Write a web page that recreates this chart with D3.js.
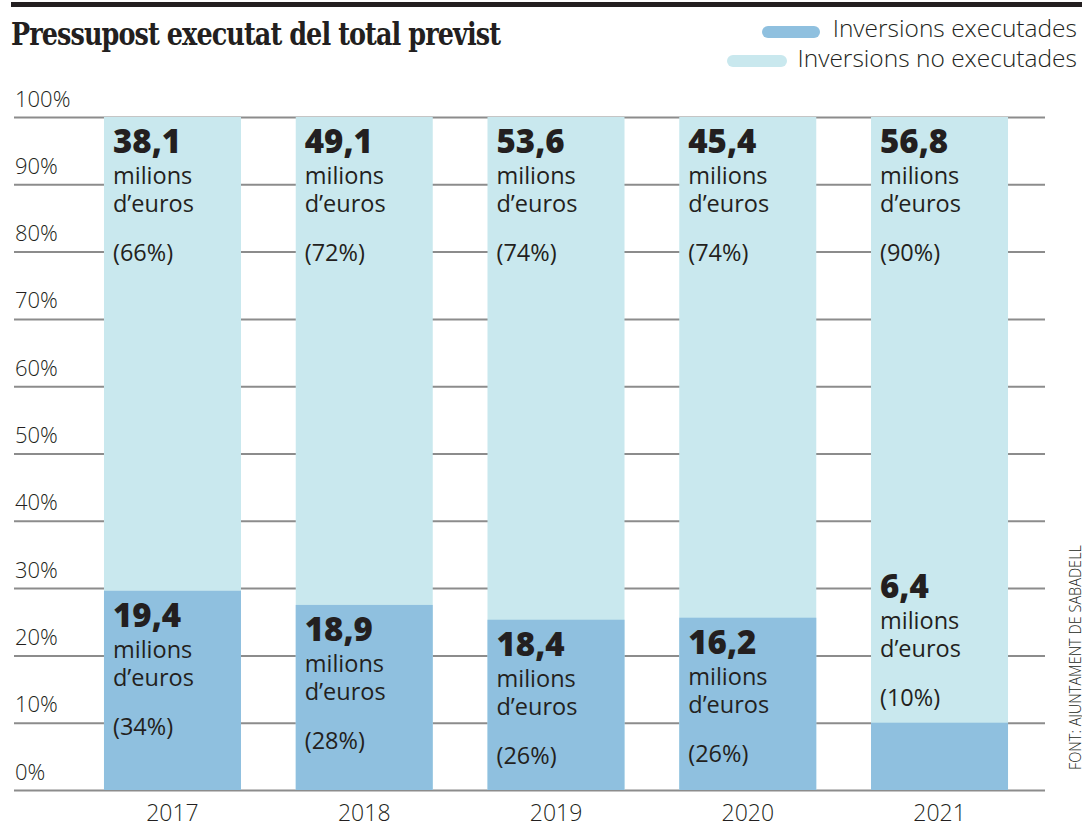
<!DOCTYPE html>
<html>
<head>
<meta charset="utf-8">
<script src="https://cdn.jsdelivr.net/npm/d3@7"></script>
<style>
  body { margin: 0; background: #fff; }
  svg text { fill: #231f20; }
</style>
</head>
<body>
<div id="chart"></div>
<script>
const years = ["2017", "2018", "2019", "2020", "2021"];
const executedMillions = [19.4, 18.9, 18.4, 16.2, 6.4];
const pendingMillions = [38.1, 49.1, 53.6, 45.4, 56.8];
const executedPct = [34, 28, 26, 26, 10];
const pendingPct = [66, 72, 74, 74, 90];
// height of the dark part as drawn in the original graphic (percent)
const executedDrawn = [29.6, 27.5, 25.3, 25.6, 10];
const yTicks = [0, 10, 20, 30, 40, 50, 60, 70, 80, 90, 100];
const legendLabels = ["Inversions executades", "Inversions no executades"];

const width = 1082, height = 824;
const darkBlue = "#8fc0df";
const lightBlue = "#c9e8ee";
const font = "'Open Sans', 'Noto Sans', sans-serif";

const svg = d3.select("#chart").append("svg")
  .attr("width", width)
  .attr("height", height)
  .style("font-family", font);

const y = d3.scaleLinear().domain([0, 100]).range([790, 117]);
const x = d3.scaleBand().domain(years)
  .range([76.6, 1035.4])
  .paddingInner(0.2855)
  .paddingOuter(0.14275);

// top rule + title
svg.append("rect")
  .attr("x", 11).attr("y", 2)
  .attr("width", width - 11).attr("height", 5)
  .attr("fill", "#231f20");

svg.append("text")
  .attr("x", 11).attr("y", 45)
  .attr("textLength", 489)
  .attr("lengthAdjust", "spacingAndGlyphs")
  .style("font-family", "'DejaVu Serif', 'Liberation Serif', serif")
  .style("font-weight", 700)
  .style("font-stretch", "condensed")
  .style("font-size", "31px")
  .style("letter-spacing", "-1px")
  .text("Pressupost executat del total previst");

// legend
const legend = svg.append("g");
const legendRows = [
  { label: legendLabels[0], color: darkBlue, sx: 762, sw: 58, ty: 37, sy: 26 },
  { label: legendLabels[1], color: lightBlue, sx: 727, sw: 60, ty: 67, sy: 55 }
];
legendRows.forEach(r => {
  legend.append("rect")
    .attr("x", r.sx).attr("y", r.sy)
    .attr("width", r.sw).attr("height", 12)
    .attr("rx", 6)
    .attr("fill", r.color);
  legend.append("text")
    .attr("x", 1077).attr("y", r.ty)
    .attr("text-anchor", "end")
    .style("font-size", "24.5px")
    .style("font-weight", 300)
    .text(r.label);
});

// y axis with grid lines
const yAxis = d3.axisRight(y)
  .tickValues(yTicks)
  .tickSize(1031)
  .tickFormat(d => d + "%");

const yG = svg.append("g")
  .attr("transform", "translate(14,0)")
  .call(yAxis);
yG.select(".domain").remove();
yG.selectAll(".tick line")
  .attr("stroke", "#8c8c8c")
  .attr("stroke-width", 2);
yG.selectAll(".tick text")
  .attr("x", 1)
  .attr("dy", -11)
  .attr("text-anchor", "start")
  .style("font-family", font)
  .style("font-size", "22px")
  .style("font-weight", 300)
  .style("fill", "#231f20");

// x axis (years)
const xG = svg.append("g")
  .attr("transform", "translate(0,790)")
  .call(d3.axisBottom(x).tickSize(0));
xG.select(".domain").remove();
xG.selectAll(".tick text")
  .attr("y", 0)
  .attr("dy", 31)
  .style("font-family", font)
  .style("font-size", "23px")
  .style("font-weight", 300)
  .style("fill", "#231f20");

// bars
const rows = years.map((yr, i) => ({
  year: yr,
  exec: executedMillions[i],
  pend: pendingMillions[i],
  execPct: executedPct[i],
  pendPct: pendingPct[i],
  drawn: executedDrawn[i]
}));

const bars = svg.append("g").selectAll("g")
  .data(rows)
  .join("g");

bars.append("rect")
  .attr("x", d => x(d.year))
  .attr("y", y(100))
  .attr("width", x.bandwidth())
  .attr("height", y(0) - y(100))
  .attr("fill", lightBlue);

bars.append("rect")
  .attr("x", d => x(d.year))
  .attr("y", d => y(d.drawn))
  .attr("width", x.bandwidth())
  .attr("height", d => y(0) - y(d.drawn))
  .attr("fill", darkBlue);

const fmt = v => d3.format(".1f")(v).replace(".", ",");

function addLabel(g, lx, top, value, pct) {
  g.append("text")
    .attr("x", lx).attr("y", top + 36)
    .style("font-size", "33px")
    .style("font-weight", 800)
    .text(fmt(value));
  g.append("text")
    .attr("x", lx).attr("y", top + 67)
    .style("font-size", "23.5px")
    .text("milions");
  g.append("text")
    .attr("x", lx).attr("y", top + 95)
    .style("font-size", "23.5px")
    .text("d\u2019euros");
  g.append("text")
    .attr("x", lx).attr("y", top + 144)
    .style("font-size", "23.5px")
    .text("(" + pct + "%)");
}

bars.each(function(d) {
  const g = d3.select(this);
  const lx = x(d.year) + 9;
  addLabel(g, lx, y(100), d.pend, d.pendPct);
  // small executed share: label goes above the dark part
  const top = d.drawn < 15 ? y(d.drawn) - 161 : y(d.drawn);
  addLabel(g, lx, top, d.exec, d.execPct);
});

// source
svg.append("text")
  .attr("transform", "translate(1081,770) rotate(-90)")
  .attr("textLength", 225)
  .attr("lengthAdjust", "spacingAndGlyphs")
  .style("font-size", "16px")
  .style("font-weight", 300)
  .text("FONT: AJUNTAMENT DE SABADELL");
</script>
</body>
</html>
